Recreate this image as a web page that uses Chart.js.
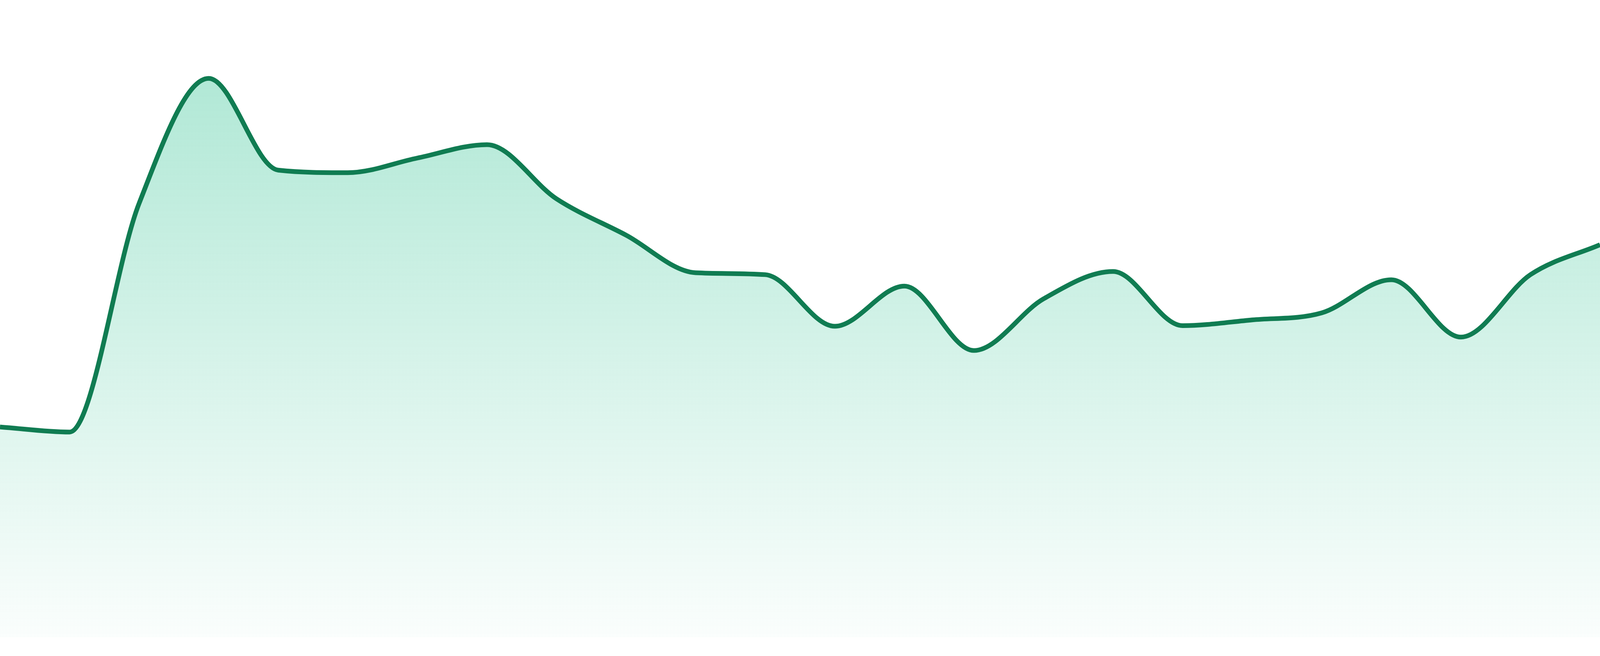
<!DOCTYPE html>
<html>
<head>
<meta charset="utf-8">
<script src="https://cdn.jsdelivr.net/npm/chart.js@4"></script>
<style>
  html, body { margin: 0; padding: 0; background: #ffffff; overflow: hidden; }
  #wrap { width: 100vw; height: 100vh; position: relative; }
</style>
</head>
<body>
<div id="wrap"><canvas id="trend"></canvas></div>
<script>
// datos
const labels = ['1', '2', '3', '4', '5', '6', '7', '8', '9', '10', '11', '12',
                '13', '14', '15', '16', '17', '18', '19', '20', '21', '22', '23', '24'];
const values = [33.0, 32.2, 68.1, 87.7, 73.3, 72.9, 75.2, 77.3, 68.8, 63.1, 57.2, 56.9,
                48.8, 55.1, 45.0, 53.1, 57.4, 48.9, 49.8, 50.9, 56.1, 47.1, 56.9, 61.6];
const yMin = 0;
const yMax = 100;

const lineColor = '#107c52';

// tamaños relativos a la ventana (referencia 4800x1680)
const sx = window.innerWidth / 4800;
const sy = window.innerHeight / 1680;

function areaGradient(context) {
    const area = context.chart.chartArea;
    if (!area) return 'rgba(16, 185, 129, 0.2)';
    const g = context.chart.ctx.createLinearGradient(0, area.top, 0, area.bottom);
    g.addColorStop(0, 'rgba(16, 185, 129, 0.37)');
    g.addColorStop(1, 'rgba(16, 185, 129, 0.02)');
    return g;
}

new Chart(document.getElementById('trend'), {
    type: 'line',
    data: {
        labels: labels,
        datasets: [{
            data: values,
            borderColor: lineColor,
            borderWidth: 14 * sx,
            backgroundColor: areaGradient,
            fill: 'origin',
            cubicInterpolationMode: 'monotone',
            pointRadius: 0,
            pointHoverRadius: 0
        }]
    },
    options: {
        responsive: true,
        maintainAspectRatio: false,
        animation: false,
        layout: { padding: { left: 0, right: 0, top: 0, bottom: 48 * sy } },
        plugins: {
            legend: { display: false },
            tooltip: { enabled: false }
        },
        scales: {
            x: { display: false, offset: false },
            y: { display: false, min: yMin, max: yMax }
        }
    }
});
</script>
</body>
</html>
